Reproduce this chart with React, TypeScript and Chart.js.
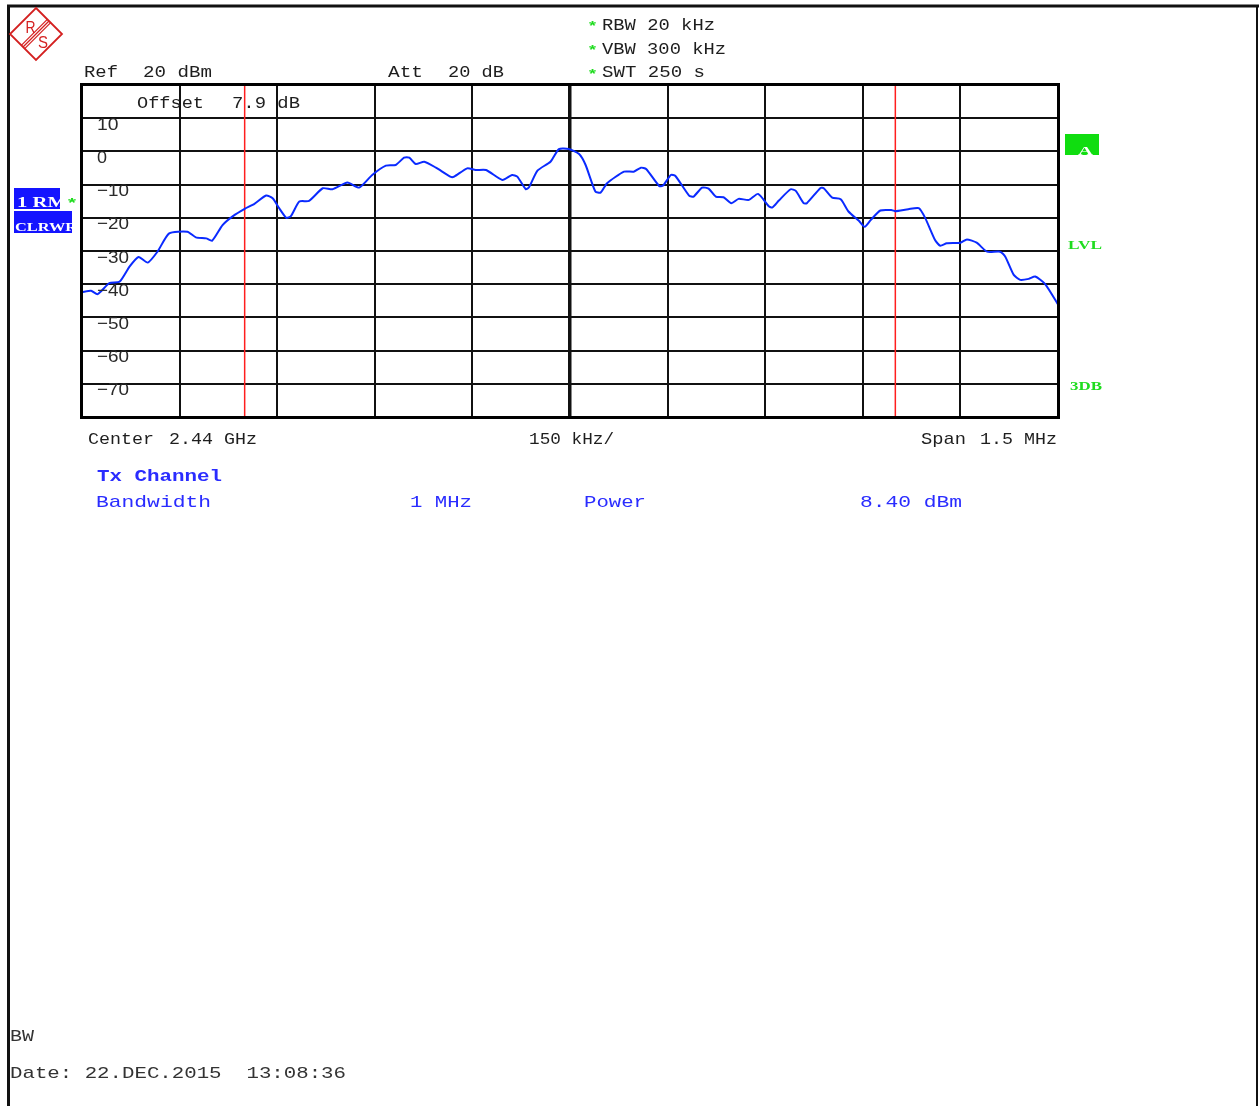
import React, { useEffect, useRef } from "react";
import { Chart, registerables } from "chart.js";

Chart.register(...registerables);

// ---- data (frequency offset from 2.44 GHz centre in kHz, level in dBm) ----
const freqKHz = [
  -750, -736, -726, -708, -692, -677, -663, -649, -634, -616, -588, -575, -559, -550, -534,
  -518, -500, -485, -467, -457, -447, -436, -429, -416, -401, -380, -365, -342, -324, -304,
  -283, -268, -255, -247, -237, -224, -206, -183, -178, -158, -145, -129, -104, -89, -81,
  -68, -63, -50, -30, -17, -2, 14, 24, 39, 47, 57, 83, 98, 109, 117,
  137, 143, 155, 162, 183, 190, 203, 213, 224, 236, 248, 259, 275, 289, 306,
  311, 321, 339, 347, 359, 364, 385, 390, 403, 416, 428, 444, 453, 462, 477,
  495, 500, 520, 536, 546, 561, 569, 579, 600, 610, 625, 641, 661, 669, 682,
  692, 705, 715, 730, 750,
];
const levelDbm = [
  -42.4, -42.0, -43.0, -39.7, -39.2, -34.7, -31.8, -33.5, -30.2, -24.7, -24.2, -25.9, -26.2, -26.9, -22.2,
  -19.5, -17.3, -15.8, -13.3, -14.1, -17.1, -20.0, -19.5, -15.1, -14.9, -11.1, -11.4, -9.4, -10.9, -7.1,
  -4.3, -4.1, -1.9, -1.9, -3.8, -3.1, -4.9, -7.7, -7.6, -5.1, -5.6, -5.6, -8.6, -7.1, -7.6,
  -11.4, -10.8, -5.8, -3.1, 0.7, 0.7, -0.8, -4.1, -12.1, -12.4, -9.6, -6.1, -6.1, -4.9, -5.3,
  -10.4, -10.3, -7.1, -7.4, -13.3, -13.6, -10.9, -11.2, -13.6, -13.8, -15.6, -14.3, -14.6, -12.8, -16.6,
  -16.9, -14.8, -11.4, -11.9, -15.6, -15.6, -11.0, -11.1, -13.9, -14.4, -18.1, -20.9, -22.7, -20.7, -17.8,
  -17.7, -18.0, -17.4, -17.1, -20.1, -26.7, -28.4, -27.7, -27.5, -26.5, -27.5, -30.2, -30.2, -31.7, -37.2,
  -38.7, -38.4, -37.7, -39.9, -46.1,
];
const channelEdgesKHz = [-500, 500];
const yTickLabels = [10, 0, -10, -20, -30, -40, -50, -60, -70];
const yMin = -80;
const yMax = 20;
const yStep = 10;
const xMin = -750;
const xMax = 750;
const xStep = 150;

const W = 1259;
const H = 1106;

function txt(
  ctx: CanvasRenderingContext2D,
  s: string,
  x: number,
  base: number,
  w: number,
  font: string,
  color: string
) {
  ctx.save();
  ctx.font = font;
  ctx.fillStyle = color;
  ctx.textBaseline = "alphabetic";
  ctx.textAlign = "left";
  const m = ctx.measureText(s).width;
  const sx = w > 0 && m > 0 ? w / m : 1;
  ctx.translate(x, base);
  ctx.scale(sx, 1);
  ctx.fillText(s, 0, 0);
  ctx.restore();
}

const MONO = "17px 'Liberation Mono'";
const DARK = "#1e1e1e";
const BLUE = "#2a2cff";
const GREEN = "#1fdc1f";

const decorPlugin = {
  id: "decor",
  beforeDraw(chart: any) {
    const ctx = chart.ctx as CanvasRenderingContext2D;
    ctx.save();
    ctx.fillStyle = "#ffffff";
    ctx.fillRect(0, 0, W, H);
    ctx.restore();
  },
  afterDraw(chart: any) {
    const ctx = chart.ctx as CanvasRenderingContext2D;
    const a = chart.chartArea;
    const ys = chart.scales.y;

    // page frame
    ctx.save();
    ctx.strokeStyle = "#111";
    ctx.lineWidth = 3;
    ctx.beginPath();
    ctx.moveTo(8.5, H);
    ctx.lineTo(8.5, 6);
    ctx.lineTo(W, 6);
    ctx.stroke();
    ctx.lineWidth = 2;
    ctx.beginPath();
    ctx.moveTo(1257, 6);
    ctx.lineTo(1257, H);
    ctx.stroke();

    // plot border
    ctx.lineWidth = 3;
    ctx.strokeStyle = "#000";
    ctx.strokeRect(a.left - 0.5, a.top - 0.5, a.right - a.left + 1, a.bottom - a.top + 1);
    ctx.restore();

    // R&S logo
    ctx.save();
    ctx.strokeStyle = "#d42020";
    ctx.fillStyle = "#d42020";
    ctx.lineWidth = 1.8;
    const cx = 36, cy = 34, r = 26;
    ctx.beginPath();
    ctx.moveTo(cx, cy - r);
    ctx.lineTo(cx + r, cy);
    ctx.lineTo(cx, cy + r);
    ctx.lineTo(cx - r, cy);
    ctx.closePath();
    ctx.stroke();
    ctx.lineWidth = 1.2;
    for (let k = -1; k <= 1; k++) {
      ctx.beginPath();
      ctx.moveTo(49 + k * 1.7, 21 + k * 1.7);
      ctx.lineTo(23 + k * 1.7, 47 + k * 1.7);
      ctx.stroke();
    }
    ctx.restore();
    txt(ctx, "R", 25.5, 33, 10, "17px 'Liberation Sans'", "#d42020");
    txt(ctx, "S", 38, 48, 10, "17px 'Liberation Sans'", "#d42020");

    // header text
    txt(ctx, "Ref", 84, 77, 34, MONO, DARK);
    txt(ctx, "20 dBm", 143, 77, 69, MONO, DARK);
    txt(ctx, "Att", 388, 77, 35, MONO, DARK);
    txt(ctx, "20 dB", 448, 77, 56, MONO, DARK);
    txt(ctx, "RBW 20 kHz", 602, 30, 113, MONO, DARK);
    txt(ctx, "VBW 300 kHz", 602, 54, 124, MONO, DARK);
    txt(ctx, "SWT 250 s", 602, 77, 103, MONO, DARK);
    ["*", "*", "*"].forEach((s, i) => {
      txt(ctx, s, 589, 30 + i * 24, 7, "bold 13px 'Liberation Sans'", GREEN);
    });
    txt(ctx, "Offset", 137, 108, 67, MONO, DARK);
    txt(ctx, "7.9 dB", 232, 108, 68, MONO, DARK);

    // y tick labels inside the plot
    yTickLabels.forEach((v) => {
      const py = ys.getPixelForValue(v);
      const s = v < 0 ? "\u2212" + Math.abs(v) : String(v);
      const w = v < 0 ? 32 : v === 0 ? 10 : 21.5;
      txt(ctx, s, 97, py + 11.5, w, "17px 'Liberation Sans'", "#2a2a2a");
    });

    // left trace badges
    ctx.save();
    ctx.fillStyle = "#1414ff";
    ctx.fillRect(14, 188, 46, 21);
    ctx.fillRect(14, 211, 58, 22);
    ctx.beginPath();
    ctx.rect(14, 188, 46, 21);
    ctx.clip();
    txt(ctx, "1 RM", 17, 207, 50, "bold 14px 'Liberation Serif'", "#ffffff");
    ctx.restore();
    ctx.save();
    ctx.beginPath();
    ctx.rect(14, 211, 58, 22);
    ctx.clip();
    txt(ctx, "CLRWR", 15, 231, 62, "bold 13px 'Liberation Serif'", "#ffffff");
    ctx.restore();
    txt(ctx, "*", 68, 207, 8, "bold 13px 'Liberation Sans'", GREEN);

    // right side markers
    ctx.save();
    ctx.fillStyle = "#10dd10";
    ctx.fillRect(1065, 134, 34, 21);
    ctx.restore();
    txt(ctx, "A", 1078, 155, 15, "bold 13px 'Liberation Serif'", "#ffffff");
    txt(ctx, "LVL", 1068, 249, 34, "bold 13px 'Liberation Serif'", GREEN);
    txt(ctx, "3DB", 1070, 390, 32, "bold 13px 'Liberation Serif'", GREEN);

    // bottom axis annotations
    txt(ctx, "Center", 88, 444, 66, MONO, DARK);
    txt(ctx, "2.44 GHz", 169, 444, 88, MONO, DARK);
    txt(ctx, "150 kHz/", 529, 444, 85, MONO, DARK);
    txt(ctx, "Span", 921, 444, 45, MONO, DARK);
    txt(ctx, "1.5 MHz", 980, 444, 77, MONO, DARK);

    // channel power table
    txt(ctx, "Tx Channel", 97, 481, 125, "bold " + MONO, BLUE);
    txt(ctx, "Bandwidth", 96, 507, 115, MONO, BLUE);
    txt(ctx, "1 MHz", 410, 507, 62, MONO, BLUE);
    txt(ctx, "Power", 584, 507, 62, MONO, BLUE);
    txt(ctx, "8.40 dBm", 860, 507, 102, MONO, BLUE);

    // footer
    txt(ctx, "BW", 10, 1041, 24, "17px 'Liberation Mono'", "#333");
    txt(ctx, "Date: 22.DEC.2015  13:08:36", 10, 1078, 336, "17px 'Liberation Mono'", "#333");
  },
};

export default function App() {
  const ref = useRef<HTMLCanvasElement | null>(null);

  useEffect(() => {
    if (!ref.current) return;
    const trace = freqKHz.map((f, i) => ({ x: f, y: levelDbm[i] }));
    const edgeSets = channelEdgesKHz.map((f) => ({
      data: [
        { x: f, y: yMin },
        { x: f, y: yMax },
      ],
      borderColor: "#ff1e1e",
      borderWidth: 1.5,
      pointRadius: 0,
      tension: 0,
      order: 2,
    }));
    const chart = new Chart(ref.current, {
      type: "line",
      data: {
        datasets: [
          {
            data: trace,
            borderColor: "#0a2aff",
            borderWidth: 2,
            pointRadius: 0,
            tension: 0.2,
            order: 1,
          },
          ...edgeSets,
        ],
      },
      options: {
        animation: false,
        responsive: false,
        maintainAspectRatio: false,
        layout: { padding: { left: 82, top: 85, right: W - 1058, bottom: H - 417 } },
        plugins: { legend: { display: false }, tooltip: { enabled: false } },
        scales: {
          x: {
            type: "linear",
            min: xMin,
            max: xMax,
            ticks: { display: false, stepSize: xStep },
            grid: {
              color: "#111111",
              lineWidth: (c: any) => (c.tick && c.tick.value === 0 ? 3.5 : 2),
              drawTicks: false,
            },
            border: { display: false },
          },
          y: {
            type: "linear",
            min: yMin,
            max: yMax,
            ticks: { display: false, stepSize: yStep },
            grid: { color: "#111111", lineWidth: 2, drawTicks: false },
            border: { display: false },
          },
        },
      },
      plugins: [decorPlugin],
    } as any);
    return () => chart.destroy();
  }, []);

  return (
    <div style={{ position: "absolute", left: 0, top: 0, width: W, height: H, background: "#fff" }}>
      <canvas ref={ref} width={W} height={H} style={{ display: "block" }} />
    </div>
  );
}
